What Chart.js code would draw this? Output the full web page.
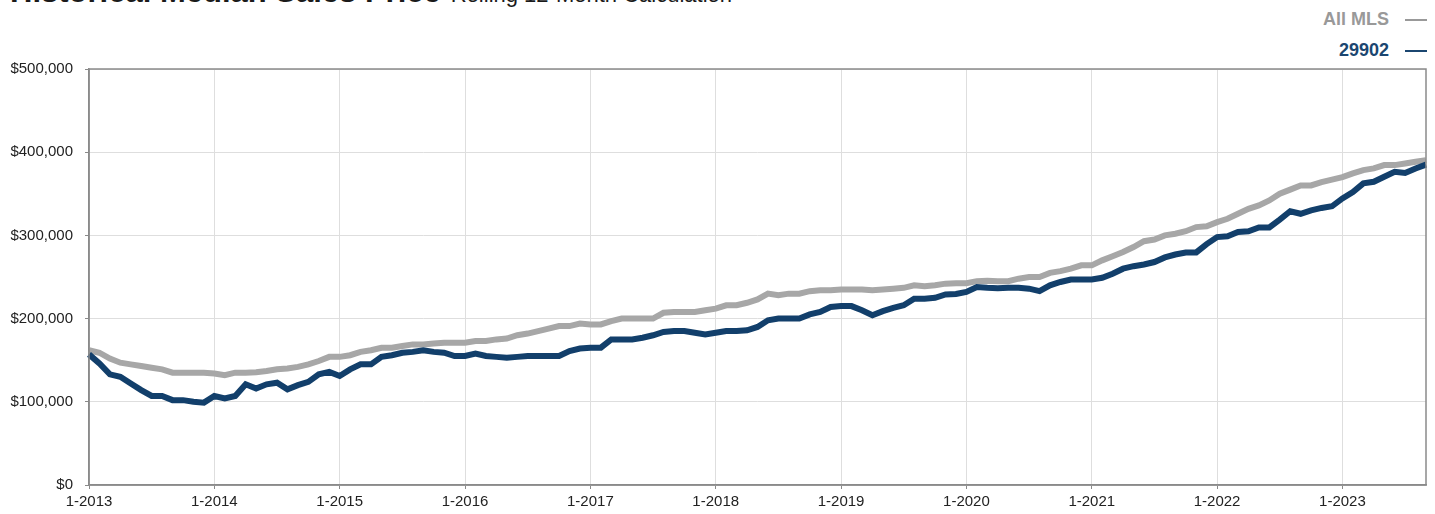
<!DOCTYPE html>
<html>
<head>
<meta charset="utf-8">
<script src="https://cdn.jsdelivr.net/npm/chart.js@4.4.0/dist/chart.umd.min.js"></script>
<style>
    body { margin: 0; background: #fff; font-family: "Liberation Sans", Arial, Helvetica, sans-serif; }
    #wrap { position: relative; width: 1435px; height: 514px; overflow: hidden; }
    #title { position: absolute; left: 10px; top: -24px; white-space: nowrap; line-height: 31px; color: #1a1a1a; }
    #title b { font-size: 31px; }
    #title span { font-size: 22px; margin-left: 10px; }
    .leg { position: absolute; right: 8px; font-weight: bold; font-size: 18px; line-height: 20px; white-space: nowrap; }
    .leg i { display: inline-block; width: 22px; height: 2px; margin-left: 16px; vertical-align: middle; }
    #chart { position: absolute; left: 0; top: 0; }
</style>
</head>
<body>
<div id="wrap">
    <div id="title"><b>Historical Median Sales Price</b><span>Rolling 12-Month Calculation</span></div>
    <div class="leg" style="top:9px;color:#999;">All MLS<i style="background:#999;"></i></div>
    <div class="leg" style="top:40px;color:#1b4670;">29902<i style="background:#1b4670;"></i></div>
    <canvas id="chart" width="1435" height="514"></canvas>
</div>
<script>
// months 1-2013 .. 9-2023
const startYear = 2013;
const monthCount = 129;
const monthLabels = [];
for (let i = 0; i < monthCount; i++) {
    monthLabels.push((i % 12 + 1) + '-' + (startYear + Math.floor(i / 12)));
}

const allMlsValues = [
    162000, 159000, 152000, 147000, 145000, 143000, 141000, 139000, 135000, 135000, 135000, 135000,
    134000, 132000, 135000, 135000, 135500, 137000, 139000, 140000, 142000, 145000, 149000, 154000,
    154000, 156000, 160000, 162000, 165000, 165000, 167000, 169000, 169000, 170000, 171000, 171000,
    171000, 173000, 173000, 175000, 176000, 180000, 182000, 185000, 188000, 191000, 191000, 194000,
    193000, 193000, 197000, 200000, 200000, 200000, 200000, 207000, 208000, 208000, 208000, 210000,
    212000, 216000, 216000, 219000, 223000, 230000, 228000, 230000, 230000, 233000, 234000, 234000,
    235000, 235000, 235000, 234000, 235000, 236000, 237000, 240000, 239000, 240000, 242000, 242500,
    242500, 245000, 245500, 245000, 245000, 248000, 250000, 250000, 255000, 257000, 260000, 264000,
    264000, 270000, 275000, 280000, 286000, 293000, 295000, 300000, 302000, 305000, 310000, 311000,
    316000, 320000, 326000, 332000, 336000, 342000, 350000, 355000, 360000, 360000, 364000, 367000,
    370000, 374500, 378500, 380500, 384500, 384500, 386500, 388500, 390500
];

const zip29902Values = [
    157000, 146000, 133000, 130000, 122000, 114000, 107000, 107000, 102000, 102000, 100000, 99000,
    107000, 104000, 107000, 121000, 116000, 121000, 123000, 115000, 120000, 124000, 133000, 136000,
    131000, 139000, 145000, 145000, 154000, 156000, 159000, 160000, 162000, 160000, 159000, 155000,
    155000, 158000, 155000, 154000, 153000, 154000, 155000, 155000, 155000, 155000, 161000, 164000,
    165000, 165000, 175000, 175000, 175000, 177000, 180000, 184000, 185000, 185000, 183000, 181000,
    183000, 185000, 185000, 186000, 190000, 198000, 200000, 200000, 200000, 205000, 208000, 214000,
    215000, 215000, 210000, 204000, 209000, 213000, 216000, 224000, 224000, 225000, 229000, 229500,
    232000, 238000, 237000, 236500, 237000, 237000, 236000, 233000, 240000, 244000, 247000, 247000,
    247000, 249000, 254000, 260000, 263000, 265000, 268000, 273500, 277000, 279500, 279500, 289500,
    298000, 299000, 304000, 305000, 309600, 309600, 319000, 329000, 326000, 330000, 333000, 335000,
    344500, 352000, 362500, 364500, 370500, 376500, 375000, 380500, 385000
];

const yTicks = [0, 100000, 200000, 300000, 400000, 500000];

const axisColor = '#8a8a8a';
const gridColor = '#dedede';
const tickFont = { family: '"Liberation Sans", Arial, sans-serif', size: 15 };

// frame around plot area (top and right edges)
const framePlugin = {
    id: 'frame',
    afterDraw(chart) {
        const a = chart.chartArea;
        const c = chart.ctx;
        c.save();
        c.strokeStyle = axisColor;
        c.lineWidth = 1.5;
        c.strokeRect(a.left, a.top, a.right - a.left, a.bottom - a.top);
        c.restore();
    }
};

new Chart(document.getElementById('chart').getContext('2d'), {
    type: 'line',
    data: {
        labels: monthLabels,
        datasets: [
            {
                label: '29902',
                data: zip29902Values,
                borderColor: '#123f6b',
                borderWidth: 6,
                pointRadius: 0,
                tension: 0,
                fill: false
            },
            {
                label: 'All MLS',
                data: allMlsValues,
                borderColor: '#a7a7a7',
                borderWidth: 6,
                pointRadius: 0,
                tension: 0,
                fill: false
            }
        ]
    },
    options: {
        responsive: false,
        animation: false,
        layout: { padding: { top: 69, right: 9, left: 0, bottom: 0 } },
        plugins: {
            legend: { display: false },
            tooltip: { enabled: false }
        },
        scales: {
            x: {
                type: 'category',
                offset: false,
                afterBuildTicks: scale => {
                    scale.ticks = scale.ticks.filter(t => t.value % 12 === 0);
                },
                afterFit: scale => { scale.height = 29; },
                ticks: {
                    autoSkip: false,
                    maxRotation: 0,
                    padding: 4,
                    color: '#222',
                    font: tickFont,
                    callback: function(value) { return this.getLabelForValue(value); }
                },
                grid: { color: gridColor, tickLength: 4, tickColor: axisColor },
                border: { color: axisColor, width: 1.5 }
            },
            y: {
                min: 0,
                max: 500000,
                afterBuildTicks: scale => {
                    scale.ticks = yTicks.map(v => ({ value: v }));
                },
                afterFit: scale => { scale.width = 89; },
                ticks: {
                    padding: 12,
                    color: '#222',
                    font: tickFont,
                    callback: value => '$' + value.toLocaleString('en-US')
                },
                grid: { color: gridColor, tickLength: 4, tickColor: axisColor },
                border: { color: axisColor, width: 1.5 }
            }
        }
    },
    plugins: [framePlugin]
});
</script>
</body>
</html>
